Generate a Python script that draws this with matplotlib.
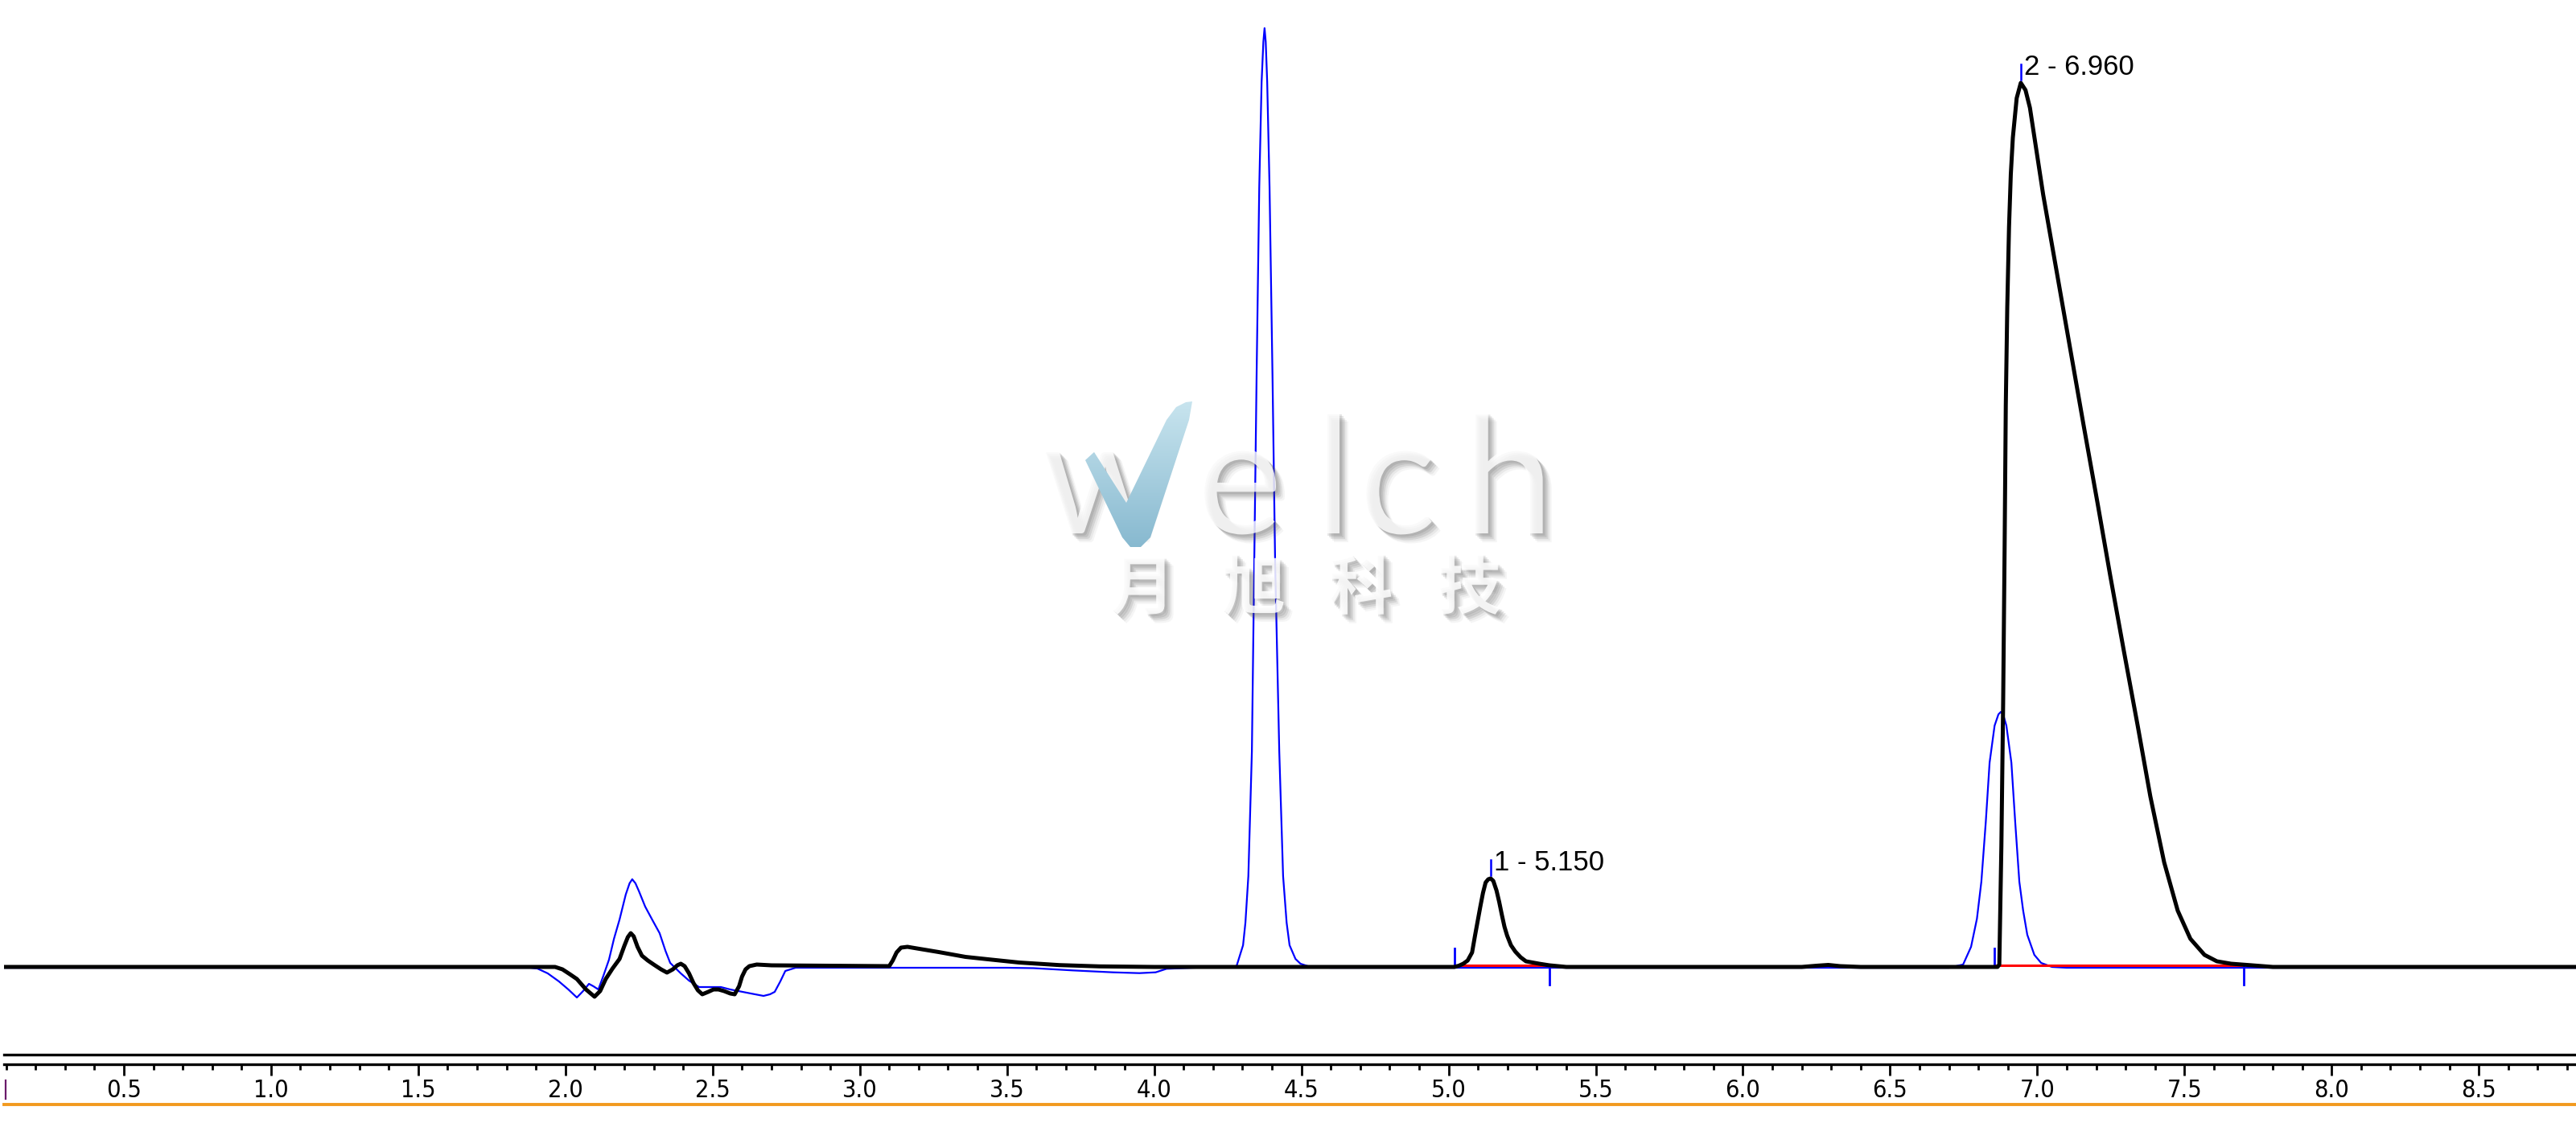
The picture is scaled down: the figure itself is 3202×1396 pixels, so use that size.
import matplotlib
matplotlib.use('Agg')
import matplotlib.pyplot as plt
import matplotlib.patheffects as pe
import numpy as np
from matplotlib.lines import Line2D
from matplotlib.patches import Polygon
from matplotlib.ticker import MultipleLocator

# chromatogram traces (time in min, signal in arbitrary units)
black_t = [0.09, 1.90, 1.965, 1.99, 2.015, 2.039, 2.07, 2.099, 2.118, 2.137, 2.16, 2.184, 2.20, 2.212,
           2.222, 2.232, 2.245, 2.26, 2.28, 2.30, 2.325, 2.345, 2.365, 2.38, 2.392, 2.405, 2.42, 2.435,
           2.45, 2.465, 2.485, 2.503, 2.52, 2.539, 2.56, 2.575, 2.59, 2.60, 2.612, 2.625, 2.65, 2.70,
           3.10, 3.112, 3.125, 3.14, 3.162, 3.186, 3.268, 3.359, 3.449, 3.541, 3.678, 3.814, 4.00,
           5.02, 5.035, 5.05, 5.065, 5.08, 5.09, 5.108, 5.117, 5.126, 5.135, 5.143, 5.152, 5.163,
           5.172, 5.181, 5.19, 5.199, 5.212, 5.227, 5.245, 5.263, 5.308, 5.343, 5.40, 6.20, 6.25,
           6.29, 6.33, 6.40, 6.865, 6.871, 6.878, 6.884, 6.889, 6.893, 6.898, 6.904, 6.91, 6.917,
           6.93, 6.944, 6.96, 6.975, 6.995, 7.02, 7.067, 7.112, 7.158, 7.204, 7.248, 7.294, 7.341,
           7.384, 7.431, 7.477, 7.52, 7.568, 7.61, 7.658, 7.73, 7.80, 8.83]
black_s = [0, 0, 0, -3, -9, -15, -28, -37, -30, -15, -2, 10, 26, 37,
           42, 38, 25, 14, 8, 3, -3, -7, -3, 2, 4, 1, -8, -20,
           -29, -34, -31, -28, -28, -30, -33, -34, -24, -12, -3, 1, 3, 2,
           1, 8, 18, 24, 25, 23.5, 18.5, 12.5, 9, 5.5, 2.3, 0.7, 0,
           0, 1.5, 4, 8, 18, 39, 75, 92, 105, 109, 110, 107, 95,
           81, 65, 50, 39, 27, 19, 12, 7, 4, 2, 0, 0, 1.5,
           2.5, 1, 0, 0, 3, 150, 328, 520, 698, 820, 920, 985, 1031,
           1080, 1099, 1090, 1068, 1020, 960, 862, 768, 672, 578, 486, 393, 300,
           212, 130, 70, 35, 15, 7, 4, 2, 0, 0]

blue_t = [0.09, 1.88, 1.905, 1.94, 1.978, 2.01, 2.039, 2.06, 2.08, 2.095, 2.112, 2.13, 2.148, 2.165,
          2.184, 2.205, 2.218, 2.227, 2.238, 2.25, 2.271, 2.296, 2.32, 2.34, 2.356, 2.392, 2.42, 2.454,
          2.49, 2.528, 2.56, 2.588, 2.63, 2.673, 2.695, 2.711, 2.73, 2.747, 2.782, 3.50, 3.59, 3.723,
          3.86, 3.95, 4.005, 4.042, 4.13, 4.25, 4.279, 4.302, 4.31, 4.32, 4.332, 4.34, 4.348, 4.357,
          4.365, 4.371, 4.375, 4.379, 4.384, 4.392, 4.402, 4.411, 4.425, 4.438, 4.45, 4.46, 4.48,
          4.497, 4.53, 4.60, 6.70, 6.748, 6.775, 6.795, 6.81, 6.825, 6.838, 6.855, 6.868, 6.876,
          6.884, 6.895, 6.912, 6.925, 6.939, 6.952, 6.966, 6.99, 7.013, 7.05, 7.10, 8.83]
blue_s = [-1, -1, -2, -8, -18, -28, -38, -30, -21, -24, -28, -10, 9, 35,
          59, 90, 104, 109, 104, 94, 75, 58, 42, 20, 5, -8, -17, -25,
          -25, -25, -28, -30, -33, -36, -34, -31, -18, -5, -1, -1, -1.5, -4.3,
          -6.7, -7.7, -6.7, -2.3, -1, 0, 0, 27, 55, 113, 268, 502, 735, 969,
          1100, 1150, 1167, 1150, 1100, 969, 735, 502, 268, 113, 55, 27, 10,
          4, 0, -1, -1, 3, 25, 60, 106, 180, 254, 300, 314, 317,
          314, 300, 254, 180, 106, 70, 40, 15, 5, 0, -1, -1]

# integrated peaks
peak_labels = ['1 - 5.150', '2 - 6.960']
peak_apex_t = [5.143, 6.944]
peak_apex_s = [110, 1099]
peak_start = [5.02, 6.855]
peak_end = [5.343, 7.70]

axis_ticks = [0.5, 1.0, 1.5, 2.0, 2.5, 3.0, 3.5, 4.0, 4.5, 5.0, 5.5, 6.0, 6.5, 7.0, 7.5, 8.0, 8.5]
axis_labels = ['0.5', '1.0', '1.5', '2.0', '2.5', '3.0', '3.5', '4.0', '4.5', '5.0', '5.5',
               '6.0', '6.5', '7.0', '7.5', '8.0', '8.5']

W, H = 3202, 1396
x_min, x_max = 0.093, 8.83

fig = plt.figure(figsize=(W / 100, H / 100), dpi=100)

# main trace area, 1 unit = 1 pixel vertically
ax = fig.add_axes([5 / W, (H - 1311) / H, 1 - 5 / W, 1311 / H])
ax.set_xlim(x_min, x_max)
ax.set_ylim(-109, 1202)
for s in ['top', 'left', 'right']:
    ax.spines[s].set_visible(False)
ax.spines['bottom'].set_linewidth(2.4)
ax.set_xticks([])
ax.set_yticks([])

ax.plot(blue_t, blue_s, color='#0000ff', lw=1.6, zorder=2)

for i in range(len(peak_labels)):
    ax.plot([peak_start[i], peak_end[i]], [2, 2], color='#ff0000', lw=2.2, zorder=3)
    ax.plot([peak_start[i], peak_start[i]], [0, 23], color='#0000ff', lw=2, zorder=3)
    ax.plot([peak_end[i], peak_end[i]], [0, -22], color='#0000ff', lw=2, zorder=3)

ax.plot(black_t, black_s, color='black', lw=3.6, solid_joinstyle='round', zorder=4)

for i in range(len(peak_labels)):
    a = peak_apex_s[i]
    ax.plot([peak_apex_t[i], peak_apex_t[i]], [a + 4, a + 23], color='#0000ff', lw=1.8, zorder=5)
    ax.annotate(peak_labels[i], xy=(peak_apex_t[i], a), xytext=(4, 10),
                textcoords='offset pixels', ha='left', va='baseline',
                fontsize=25, family=['Liberation Sans', 'DejaVu Sans'], color='black', zorder=6)

# time ruler
ax2 = fig.add_axes([5 / W, (H - 1323) / H, 1 - 5 / W, 0.0001])
ax2.set_xlim(x_min, x_max)
ax2.set_yticks([])
for s in ['top', 'left', 'right']:
    ax2.spines[s].set_visible(False)
ax2.spines['bottom'].set_linewidth(2.4)
ax2.set_xticks(axis_ticks, labels=axis_labels)
ax2.xaxis.set_minor_locator(MultipleLocator(0.1))
ax2.tick_params(which='major', length=10, width=2, direction='out', pad=3, labelsize=22)
ax2.tick_params(which='minor', length=5, width=2, direction='out')
for lab in ax2.get_xticklabels():
    lab.set_family(['Liberation Sans Narrow', 'DejaVu Sans'])
    lab.set_stretch('condensed')

fig.add_artist(Line2D([5 / W, 1], [(H - 1373) / H] * 2, color='#f29a1e', lw=2.8,
                      transform=fig.transFigure))
fig.add_artist(Line2D([6.5 / W] * 2, [(H - 1343) / H, (H - 1366) / H], color='#6a1a6a', lw=1.6,
                      transform=fig.transFigure))

# watermark, drawn in a pixel-coordinate overlay
wm = fig.add_axes([0, 0, 1, 1], zorder=10)
wm.set_xlim(0, W)
wm.set_ylim(H, 0)
wm.axis('off')
wm.patch.set_alpha(0)

shadow = [pe.SimplePatchShadow(offset=(2, -2), shadow_rgbFace='0.3', alpha=0.13),
          pe.SimplePatchShadow(offset=(3.5, -3.5), shadow_rgbFace='0.3', alpha=0.13),
          pe.SimplePatchShadow(offset=(5, -5), shadow_rgbFace='0.3', alpha=0.12),
          pe.SimplePatchShadow(offset=(6.5, -6.5), shadow_rgbFace='0.3', alpha=0.08),
          pe.SimplePatchShadow(offset=(8, -8), shadow_rgbFace='0.3', alpha=0.05),
          pe.Normal()]
for ch, xc in zip(['w', 'e', 'l', 'c', 'h'], [1374, 1540, 1656, 1736, 1874]):
    wm.text(xc, 663, ch, ha='center', va='baseline', fontsize=147,
            family='Lato', color='white', alpha=0.8, path_effects=shadow)
swoosh = [(1349, 572), (1360, 562), (1400, 625), (1450, 522), (1462, 506), (1474, 500), (1482, 499),
          (1478, 522), (1430, 668), (1418, 680), (1405, 680), (1395, 668)]
poly = Polygon(swoosh, closed=True, facecolor='none', edgecolor='none')
wm.add_patch(poly)
grad = wm.imshow(np.linspace(0, 1, 100).reshape(-1, 1), extent=(1340, 1490, 685, 495),
                 cmap=matplotlib.colors.LinearSegmentedColormap.from_list('wm', ['#c9e5ef', '#86b8cf']),
                 aspect='auto', zorder=3)
grad.set_clip_path(poly)
wm.set_xlim(0, W)
wm.set_ylim(H, 0)
for ch, xc in zip(['月', '旭', '科', '技'], [1420, 1558, 1691, 1826]):
    wm.text(xc, 733, ch, ha='center', va='center', fontsize=58, weight='bold',
            family=['Noto Sans CJK SC', 'DejaVu Sans'], color='white', alpha=0.85,
            path_effects=shadow)

fig.savefig('out.png', dpi=100)
